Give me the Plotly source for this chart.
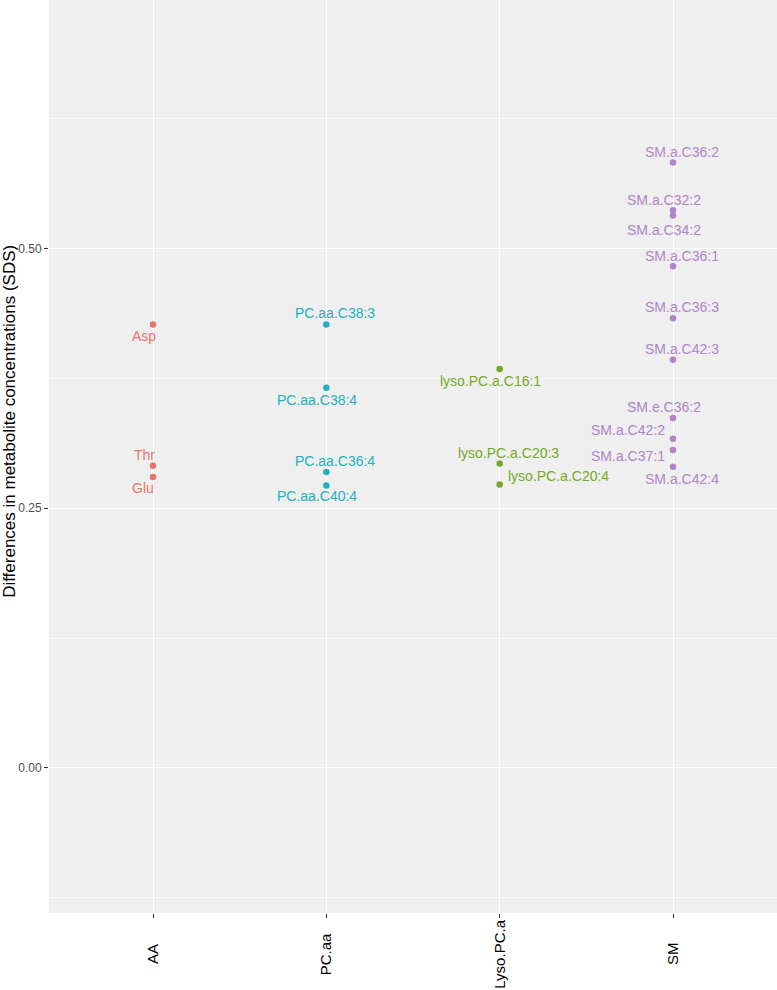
import plotly.graph_objects as go

# ---- data ----
categories = ["AA", "PC.aa", "Lyso.PC.a", "SM"]

aa_names = ["Asp", "Thr", "Glu"]
aa_values = [0.427, 0.291, 0.280]

pc_names = ["PC.aa.C38:3", "PC.aa.C38:4", "PC.aa.C36:4", "PC.aa.C40:4"]
pc_values = [0.427, 0.366, 0.285, 0.272]

lyso_names = ["lyso.PC.a.C16:1", "lyso.PC.a.C20:3", "lyso.PC.a.C20:4"]
lyso_values = [0.384, 0.293, 0.273]

sm_names = ["SM.a.C36:2", "SM.a.C32:2", "SM.a.C34:2", "SM.a.C36:1", "SM.a.C36:3",
            "SM.a.C42:3", "SM.e.C36:2", "SM.a.C42:2", "SM.a.C37:1", "SM.a.C42:4"]
sm_values = [0.583, 0.537, 0.532, 0.483, 0.433, 0.393, 0.337, 0.317, 0.306, 0.290]

y_ticks = [0.0, 0.25, 0.5]
y_tick_labels = ["0.00", "0.25", "0.50"]
y_title = "Differences in metabolite concentrations (SDS)"

# ---- styling (label offsets in pixels: xshift, yshift, xanchor) ----
colors = {"AA": "#E8736E", "PC.aa": "#22B0BF", "Lyso.PC.a": "#74AA26", "SM": "#AD85C8"}
label_offsets = {
    "AA": [(-9, -12, "center"), (-9, 11, "center"), (-10, -11, "center")],
    "PC.aa": [(9, 11, "center"), (-9, -12, "center"), (9, 11, "center"), (-9, -11, "center")],
    "Lyso.PC.a": [(-9, -12, "center"), (9, 11, "center"), (6, 8, "left")],
    "SM": [(9, 11, "center"), (-9, 10, "center"), (-9, -15, "center"), (9, 10, "center"),
           (9, 11, "center"), (9, 11, "center"), (-9, 11, "center"), (-6, 9, "right"),
           (-6, -6, "right"), (9, -12, "center")],
}

groups = [
    ("AA", aa_names, aa_values),
    ("PC.aa", pc_names, pc_values),
    ("Lyso.PC.a", lyso_names, lyso_values),
    ("SM", sm_names, sm_values),
]

FONT = "Liberation Sans, Arial, Helvetica, sans-serif"

fig = go.Figure()
annotations = []
for cat, names, vals in groups:
    fig.add_trace(go.Scatter(
        x=[cat] * len(vals), y=vals, mode="markers",
        marker=dict(color=colors[cat], size=6.5, line=dict(width=0)),
        showlegend=False, hoverinfo="text", text=names,
    ))
    for name, v, (dx, dy, anc) in zip(names, vals, label_offsets[cat]):
        annotations.append(dict(
            x=cat, y=v, xref="x", yref="y", text=name, showarrow=False,
            xshift=dx, yshift=dy, xanchor=anc, yanchor="middle",
            font=dict(family=FONT, size=14, color=colors[cat]),
        ))

# rotated category labels (centered)
for cat in categories:
    annotations.append(dict(
        x=cat, y=-0.0449, xref="x", yref="paper", text=cat, showarrow=False,
        textangle=-90, xanchor="center", yanchor="middle",
        font=dict(family=FONT, size=15, color="#000000"),
    ))

# y-axis title
annotations.append(dict(
    x=-0.0536, y=0.539, xref="paper", yref="paper", text=y_title, showarrow=False,
    textangle=-90, xanchor="center", yanchor="middle",
    font=dict(family=FONT, size=17, color="#000000"),
))

fig.update_layout(
    width=777, height=990,
    margin=dict(l=49, r=0, t=0, b=77, pad=0),
    paper_bgcolor="#FFFFFF",
    plot_bgcolor="#EFEFEF",
    annotations=annotations,
    xaxis=dict(
        type="category", categoryorder="array", categoryarray=categories,
        range=[-0.6, 3.6], showgrid=True, gridcolor="#FFFFFF", gridwidth=1.1,
        showticklabels=False, ticks="outside", ticklen=4, tickcolor="#333333",
        tickwidth=1, zeroline=False, showline=False, fixedrange=True,
    ),
    yaxis=dict(
        range=[-0.1398, 0.7395], tickvals=y_ticks, ticktext=y_tick_labels,
        showgrid=True, gridcolor="#FFFFFF", gridwidth=1.1,
        minor=dict(dtick=0.125, tick0=-0.125, showgrid=True, gridcolor="#F8F8F8", gridwidth=0.6, ticks=""),
        ticks="outside", ticklen=4, tickcolor="#333333", tickwidth=1,
        tickfont=dict(family=FONT, size=12, color="#4D4D4D"),
        zeroline=False, showline=False, fixedrange=True,
    ),
)

fig.write_html(
    "out.html",
    config={"displayModeBar": False},
    post_script="document.body.style.margin='0';document.body.style.padding='0';",
)
